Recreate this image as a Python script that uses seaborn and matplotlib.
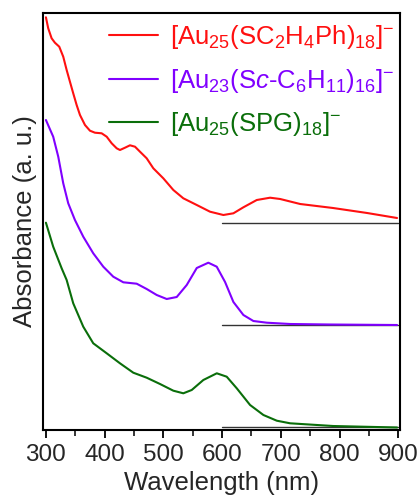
import numpy as np
import pandas as pd
import matplotlib
matplotlib.use("Agg")
import matplotlib.pyplot as plt
import seaborn as sns
from matplotlib.ticker import MultipleLocator

# Wavelength (nm) and absorbance (arbitrary units, vertically offset spectra)
wl_red = [300, 303.9, 309.7, 315.3, 322.7, 329.5, 335.3, 340.9, 346.5, 352.3, 358, 366.5, 375,
          383.5, 394.9, 403.5, 412, 420.5, 426.1, 434.7, 443.2, 451.7, 460.2, 471.6, 482.9,
          499.9, 517, 534, 556.9, 579.5, 602.2, 619.3, 636.3, 659.1, 681.8, 698.9, 733, 789,
          847, 898]
ab_red = [412.7, 401.7, 391.7, 387.3, 383.3, 373.3, 360, 348.3, 336.7, 325, 315, 305, 299.3,
          297.3, 296.7, 293.3, 286.7, 281.7, 280, 282.3, 284.7, 283.3, 278.3, 271.7, 261.7,
          251.7, 240, 231.7, 225, 218.3, 215, 216.7, 222.7, 230, 232.3, 231, 226, 222,
          217, 212]

wl_pur = [300, 312.4, 321, 329.5, 338, 349.4, 363.6, 380.6, 397.7, 414.7, 431.8, 454.6, 471.6,
          488.7, 505.7, 522.8, 539.8, 556.9, 576.6, 590.9, 605.1, 619.3, 636.3, 653.3, 676.2,
          715.9, 784, 898]
ab_pur = [310, 293.3, 273.3, 246.7, 226.7, 210, 193.3, 176.7, 163.3, 153.3, 147.7, 146.3, 141,
          135, 131, 133, 145, 162, 167.3, 163.3, 148, 128, 115, 109, 107.3,
          106, 105.5, 105]

wl_grn = [300, 312.4, 326.8, 335.3, 346.5, 363.6, 380.6, 403.5, 426.1, 448.8, 471.6, 494.3,
          517, 534, 548.3, 568.1, 591, 607.9, 625, 647.7, 670.4, 693.2, 715.9, 789, 898]
ab_grn = [207.3, 183.3, 161.7, 150, 126.7, 103.3, 86.7, 76.7, 66.7, 57.3, 52.3, 46,
          39.3, 36.7, 40, 50, 56.7, 53.3, 41.7, 25, 15, 9.3, 6.7, 4, 2.5]

baselines = [207.3, 105, 2.7]
labels = [r'[Au$_{25}$(SC$_2$H$_4$Ph)$_{18}$]$^{-}$',
          r'[Au$_{23}$(S$\mathit{c}$-C$_6$H$_{11}$)$_{16}$]$^{-}$',
          r'[Au$_{25}$(SPG)$_{18}$]$^{-}$']
colors = ['#FF1010', '#8000FF', '#0A6E0A']

sns.set_theme(style="ticks")
plt.rcParams['font.family'] = ['Liberation Sans', 'DejaVu Sans']
plt.rcParams['mathtext.fontset'] = 'custom'
plt.rcParams['mathtext.rm'] = 'Liberation Sans'
plt.rcParams['mathtext.it'] = 'Liberation Sans:style=italic'

fig = plt.figure(figsize=(4.19, 5.0), dpi=100)
ax = fig.add_axes([0.1026, 0.14, 0.852, 0.834])

series = [(wl_red, ab_red), (wl_pur, ab_pur), (wl_grn, ab_grn)]
for (w, a), lab, c, b in zip(series, labels, colors, baselines):
    df = pd.DataFrame({'wl': w, 'ab': a})
    sns.lineplot(data=df, x='wl', y='ab', ax=ax, color=c, lw=1.5, label=lab)
    ax.plot([600, 900], [b, b], color='#333333', lw=1.0, zorder=1)

ax.set_xlim(295, 903)
ax.set_ylim(0, 417)
ax.xaxis.set_major_locator(MultipleLocator(100))
ax.xaxis.set_minor_locator(MultipleLocator(50))
ax.set_yticks([])
ax.tick_params(axis='x', which='major', length=6, width=1.3, labelsize=17.5, pad=4, color='black')
ax.tick_params(axis='x', which='minor', length=4, width=1.1, color='black')
for s in ax.spines.values():
    s.set_linewidth(1.5)
    s.set_color('black')
ax.set_xlabel('Wavelength (nm)', fontsize=18.5, labelpad=4)
ax.set_ylabel('Absorbance (a. u.)', fontsize=18.5, labelpad=4)

leg = ax.legend(loc='upper right', frameon=False, fontsize=18.5, handlelength=1.9,
                handletextpad=0.45, labelspacing=0.6, borderaxespad=0.0, borderpad=0.4,
                bbox_to_anchor=(1.013, 1.0))
for t, c in zip(leg.get_texts(), colors):
    t.set_color(c)

fig.savefig('out.png', dpi=100)
